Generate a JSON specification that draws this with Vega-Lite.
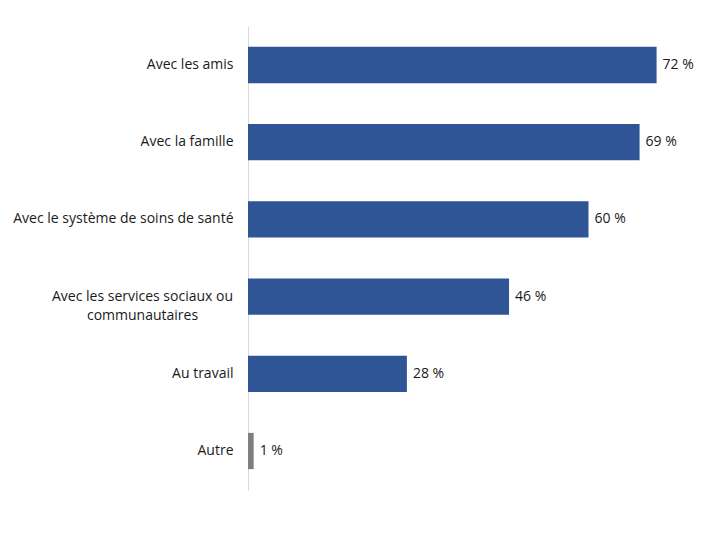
{
  "$schema": "https://vega.github.io/schema/vega-lite/v6.json",
  "width": 454,
  "height": 464,
  "autosize": "none",
  "padding": {"left": 248, "top": 26, "right": 18, "bottom": 50},
  "background": "white",
  "data": {
    "values": [
      {"cat": "Avec les amis", "v": 72, "lab": "72 %", "grp": "a"},
      {"cat": "Avec la famille", "v": 69, "lab": "69 %", "grp": "a"},
      {"cat": "Avec le système de soins de santé", "v": 60, "lab": "60 %", "grp": "a"},
      {"cat": "Avec les services sociaux ou|communautaires", "v": 46, "lab": "46 %", "grp": "a"},
      {"cat": "Au travail", "v": 28, "lab": "28 %", "grp": "a"},
      {"cat": "Autre", "v": 1, "lab": "1 %", "grp": "b"}
    ]
  },
  "encoding": {
    "y": {
      "field": "cat",
      "type": "nominal",
      "sort": null,
      "scale": {"paddingInner": 0.53, "paddingOuter": 0.27},
      "axis": {
        "title": null,
        "ticks": false,
        "domainColor": "#D9D9D9",
        "domainWidth": 1,
        "labelExpr": "split(datum.label, '|')",
        "labelFont": "Open Sans",
        "labelFontSize": 14,
        "labelColor": "#1a1a1a",
        "labelLimit": 300,
        "labelLineHeight": 19,
        "labelAlign": {"condition": {"test": "indexof(datum.value, '|') >= 0", "value": "center"}, "value": "right"},
        "labelPadding": {"condition": {"test": "indexof(datum.value, '|') >= 0", "value": 106}, "value": 15}
      }
    },
    "x": {
      "field": "v",
      "type": "quantitative",
      "scale": {"domain": [0, 80]},
      "axis": null
    }
  },
  "layer": [
    {
      "mark": {"type": "bar"},
      "encoding": {
        "color": {
          "field": "grp",
          "type": "nominal",
          "scale": {"domain": ["a", "b"], "range": ["#2F5597", "#7F7F7F"]},
          "legend": null
        }
      }
    },
    {
      "mark": {"type": "text", "align": "left", "dx": 6, "font": "Open Sans", "fontSize": 14, "color": "#1a1a1a"},
      "encoding": {"text": {"field": "lab"}}
    }
  ],
  "config": {"view": {"stroke": null}}
}
